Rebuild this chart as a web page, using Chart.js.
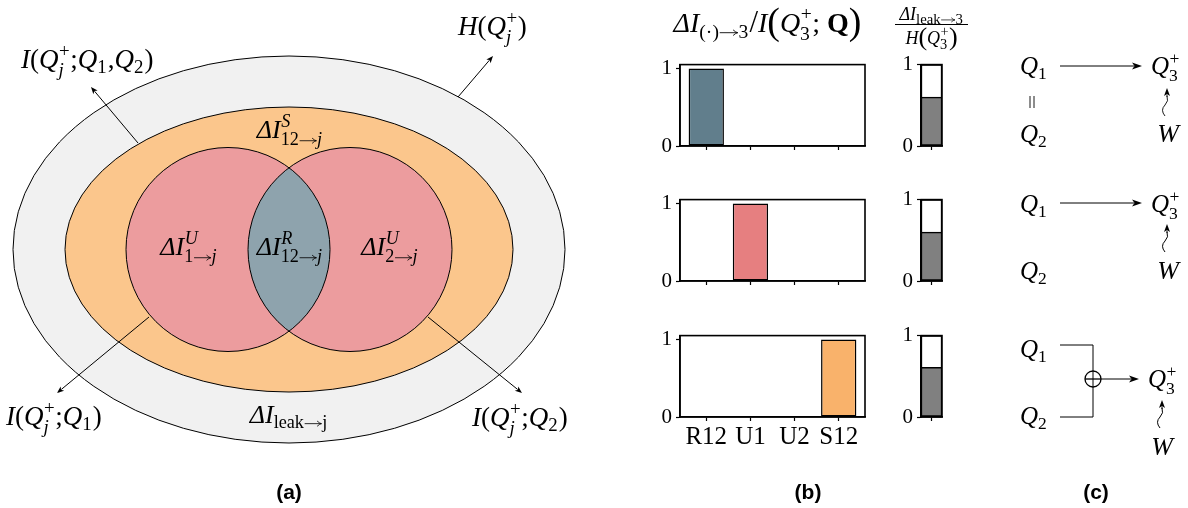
<!DOCTYPE html>
<html><head><meta charset="utf-8">
<script src="https://cdn.jsdelivr.net/npm/chart.js@4/dist/chart.umd.min.js"></script>
<style>
html,body{margin:0;padding:0;background:#fff;width:1188px;height:508px;overflow:hidden;position:relative}
canvas{position:absolute}
</style></head><body>
<script>
// ---------------- data ----------------
const categories = ['R12', 'U1', 'U2', 'S12'];
const redundantRow = [1, 0, 0, 0];
const uniqueRow = [0, 1, 0, 0];
const synergyRow = [0, 0, 0, 1];
const leakRatio = [0.60, 0.60, 0.61];
const leakTotal = [1];
const yTickValues = [0, 1];
const rowValues = [redundantRow, uniqueRow, synergyRow];

// ---------------- styles / layout ----------------
const barColors = ['#617e8c', '#e67f80', '#f9b26b'];
const rowTops = [64, 199, 335];
const plotH = 82;
const SERIF = '"Liberation Serif", "Times New Roman", serif';

function makeCanvas(left, top, w, h, z) {
  const c = document.createElement('canvas');
  c.width = w; c.height = h;
  c.style.left = left + 'px'; c.style.top = top + 'px';
  c.style.width = w + 'px'; c.style.height = h + 'px';
  c.style.zIndex = z || 1;
  document.body.appendChild(c);
  return c;
}

const framePlugin = {
  id: 'frame',
  afterDraw(c) {
    const { left, top, right, bottom } = c.chartArea;
    const ctx = c.ctx;
    ctx.save(); ctx.strokeStyle = '#000'; ctx.lineWidth = 1.6;
    ctx.strokeRect(left, top, right - left, bottom - top);
    ctx.restore();
  }
};

const tickFont = { family: SERIF, size: 21 };
function axisGrid() { return { drawOnChartArea: false, drawTicks: true, tickLength: 4, tickColor: '#000', tickWidth: 1.2, offset: false }; }
const axisBorder = { display: true, color: '#000', width: 1.6 };

function mainChart(r) {
  const padTop = 16, yW = 40, xH = 46, padR = 5;
  const cv = makeCanvas(640, rowTops[r] - padTop, 230, padTop + plotH + xH, 2);
  new Chart(cv, {
    type: 'bar',
    data: { datasets: [{
      data: rowValues[r].map((v, i) => ({ x: i, y: v })),
      backgroundColor: barColors[r], borderColor: '#000', borderWidth: 1.5, borderSkipped: false,
      categoryPercentage: 1, barPercentage: 0.8
    }] },
    options: {
      responsive: false, animation: false, devicePixelRatio: 1,
      layout: { padding: { top: padTop, right: padR, left: 0, bottom: 0 } },
      plugins: { legend: { display: false }, tooltip: { enabled: false } },
      scales: {
        x: {
          type: 'linear', min: -0.595, max: 3.595, offset: false,
          afterBuildTicks: s => { s.ticks = categories.map((c, i) => ({ value: i })); },
          afterFit: s => { s.height = xH; },
          ticks: { callback: v => (r === 2 ? categories[v] : ''), font: { family: SERIF, size: 25 }, color: '#000', padding: 1, maxRotation: 0, autoSkip: false },
          grid: axisGrid(), border: axisBorder
        },
        y: {
          min: 0, max: 1.05,
          afterBuildTicks: s => { s.ticks = yTickValues.map(v => ({ value: v })); },
          afterFit: s => { s.width = yW; },
          ticks: { font: tickFont, color: '#000', padding: 4 },
          grid: axisGrid(), border: axisBorder
        }
      }
    },
    plugins: [framePlugin]
  });
}

function leakChart(r) {
  const padTop = 16, yW = 40, xH = 46, padR = 5;
  const cv = makeCanvas(921 - yW, rowTops[r] - padTop, yW + 21 + padR, padTop + plotH + xH, 2);
  new Chart(cv, {
    type: 'bar',
    data: { labels: [''], datasets: [
      { data: [leakRatio[r]], backgroundColor: '#808080', borderColor: '#000', borderWidth: 1.5, borderSkipped: false, grouped: false, categoryPercentage: 1, barPercentage: 1 },
      { data: leakTotal, backgroundColor: '#ffffff', borderColor: '#000', borderWidth: 1.5, borderSkipped: false, grouped: false, categoryPercentage: 1, barPercentage: 1 }
    ] },
    options: {
      responsive: false, animation: false, devicePixelRatio: 1,
      layout: { padding: { top: padTop, right: padR, left: 0, bottom: 0 } },
      plugins: { legend: { display: false }, tooltip: { enabled: false } },
      scales: {
        x: { type: 'category', offset: true, afterFit: s => { s.height = xH; },
             ticks: { display: true, font: tickFont, color: '#000' }, grid: axisGrid(), border: axisBorder },
        y: { min: 0, max: 1,
             afterBuildTicks: s => { s.ticks = yTickValues.map(v => ({ value: v })); },
             afterFit: s => { s.width = yW; },
             ticks: { font: tickFont, color: '#000', padding: 4 }, grid: axisGrid(), border: axisBorder }
      }
    },
    plugins: [framePlugin]
  });
}

// ---------------- math text ----------------
const M = (t, s = 'i', k = 1, dy = 0) => [t, s, k, dy];
const ARW = M('→', 'a');
function fontFor(style, size) { return (style === 'i' ? 'italic ' : style === 'b' ? 'bold ' : '') + size + 'px ' + SERIF; }
function oneW(ctx, t, size) {
  if (Array.isArray(t)) {
    if (t[1] === 'a') return size * 1.0;
    ctx.font = fontFor(t[1], size * (t[2] || 1)); return ctx.measureText(t[0]).width;
  }
  const s = size * (t.k || 0.7);
  return Math.max(t.sup ? tokW(ctx, t.sup, s) : 0, t.sub ? tokW(ctx, t.sub, s) : 0) + size * 0.04;
}
function tokW(ctx, toks, size) { let w = 0; for (const t of toks) w += oneW(ctx, t, size); return w; }
function drawArrowGlyph(ctx, x, y, size) {
  const ay = y - size * 0.25, x0 = x + size * 0.06, x1 = x + size * 0.94;
  ctx.save(); ctx.strokeStyle = ctx.fillStyle; ctx.lineWidth = Math.max(0.7, size * 0.045); ctx.lineCap = 'round';
  ctx.beginPath(); ctx.moveTo(x0, ay); ctx.lineTo(x1, ay);
  ctx.moveTo(x1 - size * 0.2, ay - size * 0.13); ctx.quadraticCurveTo(x1 - size * 0.08, ay - size * 0.02, x1, ay);
  ctx.moveTo(x1 - size * 0.2, ay + size * 0.13); ctx.quadraticCurveTo(x1 - size * 0.08, ay + size * 0.02, x1, ay);
  ctx.stroke(); ctx.restore();
}
function drawToks(ctx, toks, x, y, size) {
  for (const t of toks) {
    if (Array.isArray(t)) {
      if (t[1] === 'a') { drawArrowGlyph(ctx, x, y, size); x += size; continue; }
      ctx.font = fontFor(t[1], size * (t[2] || 1));
      ctx.fillText(t[0], x, y + (t[3] || 0) * size);
      x += ctx.measureText(t[0]).width;
    } else {
      const s = size * (t.k || 0.7); let w = 0;
      if (t.sup) { drawToks(ctx, t.sup, x + size * 0.02, y + (t.sub ? -0.42 : -0.38) * size, s); w = Math.max(w, tokW(ctx, t.sup, s)); }
      if (t.sub) { drawToks(ctx, t.sub, x, y + (t.sup ? 0.28 : 0.2) * size, s); w = Math.max(w, tokW(ctx, t.sub, s)); }
      x += w + size * 0.04;
    }
  }
  return x;
}
function drawMath(ctx, toks, x, y, size, align) {
  ctx.textBaseline = 'alphabetic'; ctx.textAlign = 'left'; ctx.fillStyle = '#000';
  const w = tokW(ctx, toks, size);
  if (align === 'center') x -= w / 2; else if (align === 'right') x -= w;
  drawToks(ctx, toks, x, y, size);
  return w;
}
const Qj = [M('Q'), { sup: [M('+', 'r')], sub: [M('j')] }];
const L = {
  iq12: [M('I'), M('(', 'r'), ...Qj, M(';', 'r'), M('Q'), { sub: [M('1', 'r')] }, M(',', 'r'), M('Q'), { sub: [M('2', 'r')] }, M(')', 'r')],
  hq: [M('H'), M('(', 'r'), ...Qj, M(')', 'r')],
  iq1: [M('I'), M('(', 'r'), ...Qj, M(';', 'r'), M('Q'), { sub: [M('1', 'r')] }, M(')', 'r')],
  iq2: [M('I'), M('(', 'r'), ...Qj, M(';', 'r'), M('Q'), { sub: [M('2', 'r')] }, M(')', 'r')],
  dS: [M('Δ'), M('I'), { sup: [M('S')], sub: [M('12', 'r'), ARW, M('j')] }],
  dU1: [M('Δ'), M('I'), { sup: [M('U')], sub: [M('1', 'r'), ARW, M('j')] }],
  dR: [M('Δ'), M('I'), { sup: [M('R')], sub: [M('12', 'r'), ARW, M('j')] }],
  dU2: [M('Δ'), M('I'), { sup: [M('U')], sub: [M('2', 'r'), ARW, M('j')] }],
  dLeak: [M('Δ'), M('I'), { sub: [M('leak', 'r'), ARW, M('j', 'r')] }],
  title: [M('Δ'), M('I'), { sub: [M('(·)', 'r'), ARW, M('3', 'r')] }, M('/', 'r', 1.1), M('I'), M('(', 'r', 1.35, 0.06), M('Q'), { sup: [M('+', 'r')], sub: [M('3', 'r')] }, M('; ', 'r'), M('Q', 'b'), M(')', 'r', 1.35, 0.06)],
  num: [M('Δ'), M('I'), { k: 0.82, sub: [M('leak', 'r'), ARW, M('3', 'r')] }],
  den: [M('H'), M('(', 'r', 1.45, 0.08), M('Q'), { k: 0.8, sup: [M('+', 'r')], sub: [M('3', 'r')] }, M(')', 'r', 1.45, 0.08)],
  q1: [M('Q'), { sub: [M('1', 'r')] }],
  q2: [M('Q'), { sub: [M('2', 'r')] }],
  q3: [M('Q'), { sup: [M('+', 'r')], sub: [M('3', 'r')] }],
  w: [M('W')]
};

// ---------------- diagram (a), (c) and text overlay ----------------
const venn = { cx: 289, cy: 249.5, outer: [276, 193.5], inner: [224, 142.5], r: 102, dx: 61 };

function arrow(ctx, x1, y1, x2, y2, hl, hw) {
  const a = Math.atan2(y2 - y1, x2 - x1);
  ctx.beginPath(); ctx.moveTo(x1, y1); ctx.lineTo(x2 - Math.cos(a) * hl * 0.8, y2 - Math.sin(a) * hl * 0.8); ctx.stroke();
  ctx.beginPath();
  ctx.moveTo(x2, y2);
  ctx.lineTo(x2 - Math.cos(a) * hl + Math.sin(a) * hw, y2 - Math.sin(a) * hl - Math.cos(a) * hw);
  ctx.lineTo(x2 - Math.cos(a) * hl * 0.75, y2 - Math.sin(a) * hl * 0.75);
  ctx.lineTo(x2 - Math.cos(a) * hl - Math.sin(a) * hw, y2 - Math.sin(a) * hl + Math.cos(a) * hw);
  ctx.closePath(); ctx.fill();
}
function squiggle(ctx, x, yTail, yTip) {
  ctx.beginPath();
  ctx.moveTo(x - 1, yTail);
  ctx.quadraticCurveTo(x - 6, yTail - 6, x - 1, yTail - 11);
  ctx.quadraticCurveTo(x + 3, yTail - 15, x + 1, yTip + 8);
  ctx.stroke();
  arrow(ctx, x + 1, yTip + 9, x + 1, yTip, 8, 3);
}

const overlayPlugin = {
  id: 'overlay',
  afterDraw(c) {
    const ctx = c.ctx, xs = c.scales.x, ys = c.scales.y;
    const X = v => xs.getPixelForValue(v), Y = v => ys.getPixelForValue(v);
    const DX = d => X(d) - X(0), DY = d => Y(d) - Y(0);
    ctx.save();
    ctx.lineWidth = 1; ctx.strokeStyle = '#000'; ctx.fillStyle = '#000';
    const cx = X(venn.cx), cy = Y(venn.cy);
    const ell = (rx, ry, fill) => { ctx.beginPath(); ctx.ellipse(cx, cy, DX(rx), DY(ry), 0, 0, Math.PI * 2); ctx.fillStyle = fill; ctx.fill(); ctx.stroke(); };
    ell(venn.outer[0], venn.outer[1], '#f1f1f1');
    ell(venn.inner[0], venn.inner[1], '#fbc68c');
    const r = DX(venn.r), lx = cx - DX(venn.dx), rx = cx + DX(venn.dx);
    ctx.fillStyle = '#ec9c9e';
    ctx.beginPath(); ctx.arc(lx, cy, r, 0, Math.PI * 2); ctx.fill();
    ctx.beginPath(); ctx.arc(rx, cy, r, 0, Math.PI * 2); ctx.fill();
    ctx.save();
    ctx.beginPath(); ctx.arc(lx, cy, r, 0, Math.PI * 2); ctx.clip();
    ctx.fillStyle = '#8ea3ad'; ctx.beginPath(); ctx.arc(rx, cy, r, 0, Math.PI * 2); ctx.fill();
    ctx.restore();
    ctx.beginPath(); ctx.arc(lx, cy, r, 0, Math.PI * 2); ctx.stroke();
    ctx.beginPath(); ctx.arc(rx, cy, r, 0, Math.PI * 2); ctx.stroke();
    ctx.fillStyle = '#000';
    arrow(ctx, X(138), Y(143), X(91), Y(87), 7, 2.8);
    arrow(ctx, X(458), Y(97), X(493), Y(56), 7, 2.8);
    arrow(ctx, X(149), Y(317), X(57), Y(393), 7, 2.8);
    arrow(ctx, X(428), Y(317), X(522), Y(393), 7, 2.8);

    const vs = 27;
    drawMath(ctx, L.iq12, X(21), Y(68), vs);
    drawMath(ctx, L.hq, X(458), Y(35), vs);
    drawMath(ctx, L.iq1, X(6), Y(425), vs);
    drawMath(ctx, L.iq2, X(472), Y(426), vs);
    drawMath(ctx, L.dS, X(290), Y(138), 26, 'center');
    drawMath(ctx, L.dU1, X(189), Y(255), 26, 'center');
    drawMath(ctx, L.dR, X(290), Y(255), 26, 'center');
    drawMath(ctx, L.dU2, X(390), Y(255), 26, 'center');
    drawMath(ctx, L.dLeak, X(289), Y(423), 26, 'center');

    // titles of (b)
    drawMath(ctx, L.title, X(767.5), Y(32), 28, 'center');
    drawMath(ctx, L.num, X(931.5), Y(20), 18, 'center');
    ctx.lineWidth = 1;
    ctx.beginPath(); ctx.moveTo(X(895), Y(24.5)); ctx.lineTo(X(968), Y(24.5)); ctx.stroke();
    drawMath(ctx, L.den, X(931.5), Y(44), 18, 'center');

    // panel (c)
    const cs = 25;
    drawMath(ctx, L.q1, X(1020), Y(74), cs);
    drawMath(ctx, L.q3, X(1151), Y(74), cs);
    drawMath(ctx, L.q2, X(1020), Y(142), cs);
    drawMath(ctx, L.w, X(1168), Y(142), 26, 'center');
    arrow(ctx, X(1060), Y(66), X(1142), Y(66), 10, 3.5);
    ctx.lineWidth = 0.9;
    ctx.beginPath(); ctx.moveTo(X(1030), Y(96)); ctx.lineTo(X(1030), Y(108)); ctx.moveTo(X(1034), Y(96)); ctx.lineTo(X(1034), Y(108)); ctx.stroke();
    squiggle(ctx, X(1166), Y(116), Y(88));

    drawMath(ctx, L.q1, X(1020), Y(212), cs);
    drawMath(ctx, L.q3, X(1151), Y(212), cs);
    drawMath(ctx, L.q2, X(1020), Y(279), cs);
    drawMath(ctx, L.w, X(1168), Y(279), 26, 'center');
    ctx.lineWidth = 1;
    arrow(ctx, X(1060), Y(203), X(1142), Y(203), 10, 3.5);
    squiggle(ctx, X(1166), Y(252), Y(224));

    drawMath(ctx, L.q1, X(1020), Y(357), cs);
    drawMath(ctx, L.q2, X(1020), Y(424), cs);
    drawMath(ctx, L.q3, X(1148), Y(387), cs);
    drawMath(ctx, L.w, X(1162), Y(455), 26, 'center');
    ctx.beginPath();
    ctx.moveTo(X(1060), Y(345)); ctx.lineTo(X(1093), Y(345)); ctx.lineTo(X(1093), Y(417)); ctx.lineTo(X(1060), Y(417));
    ctx.stroke();
    ctx.lineWidth = 1.3;
    ctx.beginPath(); ctx.arc(X(1093), Y(379), 8, 0, Math.PI * 2); ctx.stroke();
    ctx.beginPath(); ctx.moveTo(X(1085), Y(379)); ctx.lineTo(X(1101), Y(379)); ctx.stroke();
    ctx.lineWidth = 1;
    arrow(ctx, X(1101), Y(379), X(1139), Y(379), 10, 3.5);
    squiggle(ctx, X(1161), Y(428), Y(400));

    // panel labels
    ctx.font = 'bold 21px "Liberation Sans", Arial, sans-serif';
    ctx.textAlign = 'center'; ctx.textBaseline = 'middle'; ctx.fillStyle = '#000';
    ctx.fillText('(a)', X(289), Y(493));
    ctx.fillText('(b)', X(808), Y(493));
    ctx.fillText('(c)', X(1096), Y(493));
    ctx.restore();
  }
};

const ov = makeCanvas(0, 0, 1188, 508, 1);
new Chart(ov, {
  type: 'scatter',
  data: { datasets: [] },
  options: {
    responsive: false, animation: false, devicePixelRatio: 1,
    layout: { padding: 0 },
    plugins: { legend: { display: false }, tooltip: { enabled: false } },
    scales: {
      x: { type: 'linear', min: 0, max: 1188, display: false },
      y: { type: 'linear', min: 0, max: 508, reverse: true, display: false }
    }
  },
  plugins: [overlayPlugin]
});

[0, 1, 2].forEach(r => { mainChart(r); leakChart(r); });
</script>
</body></html>
